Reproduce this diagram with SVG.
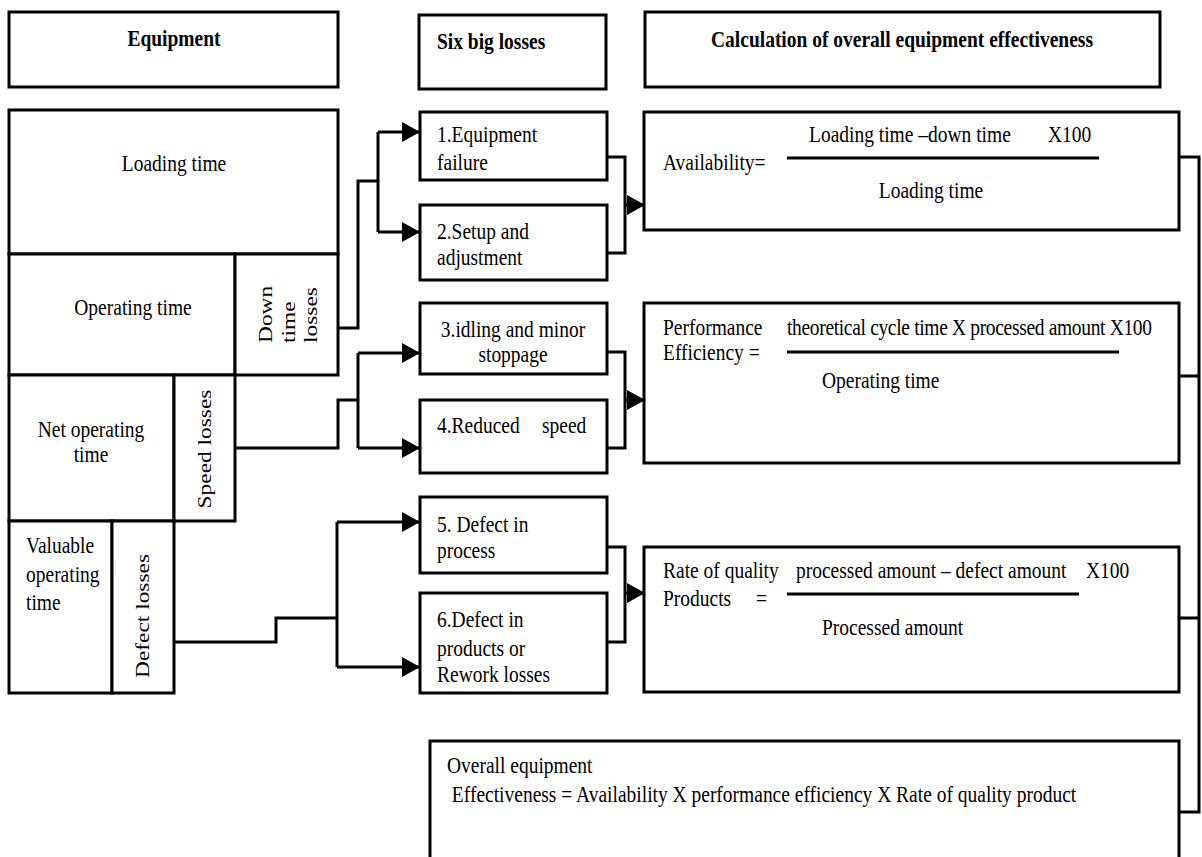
<svg xmlns="http://www.w3.org/2000/svg" width="1202" height="857" viewBox="0 0 1202 857">
<style>
.box{fill:#fff;stroke:#000;stroke-width:3}
.ln{fill:none;stroke:#000;stroke-width:3}
.t{font-family:"Liberation Serif","Times New Roman",serif;font-size:19.5px;fill:#000}
.b{font-weight:bold}
.m{text-anchor:middle}
.e{text-anchor:end}
</style>
<defs>
<marker id="ah" markerUnits="userSpaceOnUse" markerWidth="18" markerHeight="20" refX="18" refY="10" orient="auto"><path d="M0,0 L18,10 L0,20 z" fill="#000"/></marker>
</defs>
<rect width="1202" height="857" fill="#fff"/>

<g id="hdr-equipment"><rect class="box" x="9" y="12" width="329" height="75"/><text class="t b m" transform="translate(174,46) scale(1,1.2)">Equipment</text></g>
<g id="hdr-six"><rect class="box" x="419" y="15" width="187" height="74"/><text class="t b" transform="translate(437,49) scale(1,1.2)">Six big losses</text></g>
<g id="hdr-calc"><rect class="box" x="645" y="12" width="515" height="75"/><text class="t b m" transform="translate(902,47) scale(1,1.2)">Calculation of overall equipment effectiveness</text></g>

<g id="loading"><rect class="box" x="9" y="110" width="329" height="144"/><text class="t m" transform="translate(174,171) scale(1,1.2)">Loading time</text></g>
<g id="operating"><rect class="box" x="9" y="254" width="226" height="121"/><text class="t m" transform="translate(133,315) scale(1,1.2)">Operating time</text></g>
<g id="downtime"><rect class="box" x="235" y="254" width="103" height="121"/>
<text class="t" transform="translate(272,343) scale(1,1.2) rotate(-90)">Down</text>
<text class="t" transform="translate(295,343) scale(1,1.2) rotate(-90)">time</text>
<text class="t" transform="translate(317,343) scale(1,1.2) rotate(-90)">losses</text></g>
<g id="netop"><rect class="box" x="9" y="375" width="165" height="146"/><text class="t m" transform="translate(91,437) scale(1,1.2)">Net operating</text><text class="t m" transform="translate(91,462) scale(1,1.2)">time</text></g>
<g id="speed"><rect class="box" x="174" y="375" width="61" height="146"/><text class="t m" transform="translate(211,449) scale(1,1.2) rotate(-90)">Speed losses</text></g>
<g id="valuable"><rect class="box" x="9" y="521" width="103" height="172"/><text class="t" transform="translate(26,553) scale(1,1.2)">Valuable</text><text class="t" transform="translate(26,582) scale(1,1.2)">operating</text><text class="t" transform="translate(26,610) scale(1,1.2)">time</text></g>
<g id="defect"><rect class="box" x="112" y="521" width="62" height="172"/><text class="t m" transform="translate(149,616) scale(1,1.2) rotate(-90)">Defect losses</text></g>

<g id="loss1"><rect class="box" x="420" y="112" width="187" height="68"/><text class="t" transform="translate(437,142) scale(1,1.2)">1.Equipment</text><text class="t" transform="translate(437,170) scale(1,1.2)">failure</text></g>
<g id="loss2"><rect class="box" x="420" y="205" width="187" height="75"/><text class="t" transform="translate(437,239) scale(1,1.2)">2.Setup and</text><text class="t" transform="translate(437,265) scale(1,1.2)">adjustment</text></g>
<g id="loss3"><rect class="box" x="420" y="303" width="187" height="71"/><text class="t m" transform="translate(513,337) scale(1,1.2)">3.idling and minor</text><text class="t m" transform="translate(513,362) scale(1,1.2)">stoppage</text></g>
<g id="loss4"><rect class="box" x="420" y="400" width="187" height="73"/><text class="t" transform="translate(437,433) scale(1,1.2)">4.Reduced</text><text class="t" transform="translate(542,433) scale(1,1.2)">speed</text></g>
<g id="loss5"><rect class="box" x="420" y="497" width="187" height="76"/><text class="t" transform="translate(437,532) scale(1,1.2)">5. Defect in</text><text class="t" transform="translate(437,558) scale(1,1.2)">process</text></g>
<g id="loss6"><rect class="box" x="420" y="593" width="187" height="100"/><text class="t" transform="translate(437,627) scale(1,1.2)">6.Defect in</text><text class="t" transform="translate(437,656) scale(1,1.2)">products or</text><text class="t" transform="translate(437,682) scale(1,1.2)">Rework losses</text></g>

<g id="availability"><rect class="box" x="644" y="112" width="535" height="118"/>
<text class="t" transform="translate(663,170) scale(1,1.2)">Availability=</text>
<text class="t" transform="translate(809,142) scale(1,1.2)">Loading time –down time</text>
<text class="t" transform="translate(1048,142) scale(1,1.2)">X100</text>
<line class="ln" x1="787" y1="158" x2="1099" y2="158"/>
<text class="t m" transform="translate(931,198) scale(1,1.2)">Loading time</text></g>

<g id="performance"><rect class="box" x="644" y="303" width="535" height="160"/>
<text class="t" transform="translate(663,335) scale(1,1.2)">Performance</text>
<text class="t" transform="translate(663,360) scale(1,1.2)">Efficiency =</text>
<text class="t" transform="translate(787,335) scale(1,1.2)" textLength="365" lengthAdjust="spacing">theoretical cycle time X processed amount X100</text>
<line class="ln" x1="787" y1="352" x2="1119" y2="352"/>
<text class="t" transform="translate(822,388) scale(1,1.2)">Operating time</text></g>

<g id="quality"><rect class="box" x="644" y="547" width="535" height="145"/>
<text class="t" transform="translate(663,578) scale(1,1.2)">Rate of quality</text>
<text class="t" transform="translate(663,606) scale(1,1.2)">Products</text>
<text class="t" transform="translate(756,606) scale(1,1.2)">=</text>
<text class="t" transform="translate(796,578) scale(1,1.2)">processed amount – defect amount</text>
<text class="t" transform="translate(1086,578) scale(1,1.2)">X100</text>
<line class="ln" x1="787" y1="594" x2="1079" y2="594"/>
<text class="t" transform="translate(822,635) scale(1,1.2)">Processed amount</text></g>

<g id="overall"><rect class="box" x="430" y="741" width="749" height="130"/>
<text class="t" transform="translate(447,773) scale(1,1.2)">Overall equipment</text>
<text class="t" xml:space="preserve" transform="translate(447,802) scale(1,1.2)"> Effectiveness = Availability X performance efficiency X Rate of quality product</text></g>

<g id="connectors" class="ln">
<path d="M338,328 H358 V181 H378 M378,132 V232"/>
<path d="M235,448 H338 V400 H358 M358,353 V448"/>
<path d="M174,642 H276 V618 H337 M337,522 V667"/>
<path d="M607,157 H625 V253 H607"/>
<path d="M607,352 H625 V448 H607"/>
<path d="M607,547 H625 V642 H607"/>
<path d="M1179,157 H1199 V812 H1179 M1179,376 H1199 M1179,618 H1199"/>
<path d="M378,132 H420" marker-end="url(#ah)"/>
<path d="M378,232 H420" marker-end="url(#ah)"/>
<path d="M358,353 H420" marker-end="url(#ah)"/>
<path d="M358,448 H420" marker-end="url(#ah)"/>
<path d="M337,522 H420" marker-end="url(#ah)"/>
<path d="M337,667 H420" marker-end="url(#ah)"/>
<path d="M625,205 H645" marker-end="url(#ah)"/>
<path d="M625,400 H645" marker-end="url(#ah)"/>
<path d="M625,593 H645" marker-end="url(#ah)"/>
</g>
</svg>
